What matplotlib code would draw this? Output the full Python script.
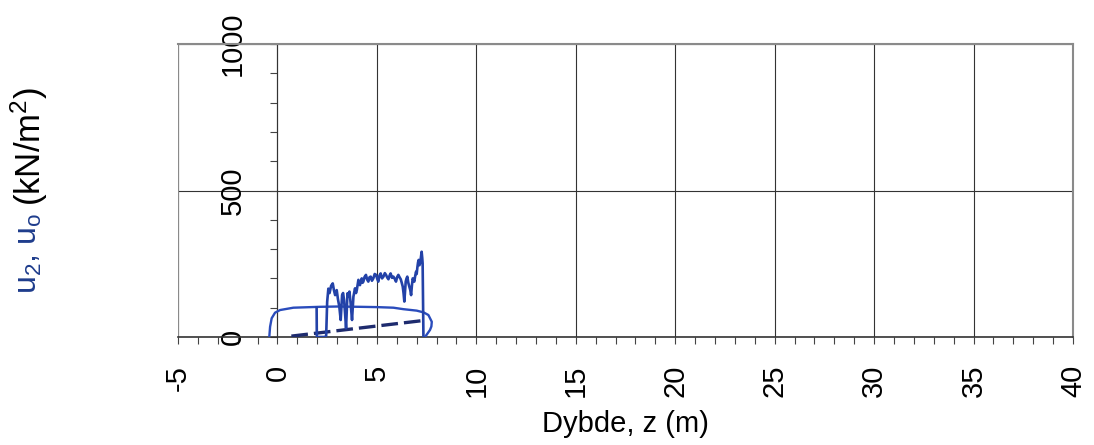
import numpy as np
import matplotlib
matplotlib.use("Agg")
import matplotlib.pyplot as plt
from matplotlib.ticker import MultipleLocator

plt.rcParams['font.family'] = ['Liberation Sans', 'DejaVu Sans']
plt.rcParams['axes.unicode_minus'] = False
plt.rcParams['mathtext.default'] = 'regular'

# Smooth u0 profile (solid)
z_u0 = [-0.41, -0.37, -0.29, -0.12, 0.13, 0.8, 2.14, 3.0, 4.15, 5.0, 5.83, 6.33, 7.0, 7.35, 7.59, 7.76, 7.74, 7.67, 7.42]
u0 = [0, 35, 64, 83, 92, 100, 103, 104, 103, 102, 100, 95, 90, 84, 75, 52, 36, 24, 0]

# Hydrostatic line (dashed)
z_hyd = [0.7, 7.3]
u_hyd = [3, 56]

# Measured u2 trace
z_u2 = [1.97, 1.98, 2.40, 2.45, 2.50, 2.56, 2.62, 2.70, 2.78, 2.84, 2.90, 2.98, 3.04, 3.11, 3.18,
        3.25, 3.30, 3.35, 3.40, 3.45, 3.52, 3.57, 3.62, 3.68, 3.75, 3.82, 3.90, 3.95, 3.99, 4.07,
        4.11, 4.15, 4.20, 4.24, 4.28, 4.32, 4.38, 4.45, 4.51, 4.57, 4.63, 4.69, 4.75, 4.82, 4.89,
        4.96, 5.02, 5.07, 5.13, 5.19, 5.26, 5.33, 5.40, 5.46, 5.52, 5.58, 5.64, 5.69, 5.76, 5.83,
        5.90, 5.96, 6.02, 6.08, 6.14, 6.20, 6.25, 6.30, 6.34, 6.38, 6.45, 6.49, 6.53, 6.58, 6.63,
        6.68, 6.72, 6.76, 6.80, 6.84, 6.88, 6.93, 6.97, 7.00, 7.04, 7.07, 7.10, 7.14, 7.17, 7.21,
        7.25, 7.28, 7.30, 7.34]
u2 = [100, 0, 0, 5, 120, 165, 150, 175, 183, 160, 143, 160, 130, 104, 58,
      143, 150, 126, 80, 30, 149, 140, 155, 115, 58, 138, 166, 150, 160, 195,
      180, 177, 192, 200, 185, 189, 205, 212, 196, 189, 204, 206, 192, 200, 215,
      212, 198, 189, 210, 217, 200, 206, 218, 212, 203, 197, 210, 217, 202, 206,
      198, 189, 205, 212, 204, 197, 185, 172, 150, 121, 189, 200, 206, 185, 172,
      160, 143, 175, 200, 195, 189, 210, 223, 215, 240, 255, 263, 245, 251, 270,
      291, 270, 251, 0]

xticks = np.arange(-5, 41, 5)
yticks = [0, 500, 1000]

fig = plt.figure(figsize=(10.94, 4.45), dpi=100)
ax = fig.add_axes([178 / 1094, 1 - 337 / 445, (1073 - 178) / 1094, (337 - 44) / 445])

ax.plot(z_u0, u0, color='#2a4cbc', lw=1.7, zorder=3)
ax.plot(z_hyd, u_hyd, color='#1e2b6e', lw=2.4, dashes=(5, 1.8), zorder=3)
ax.plot(z_u2, u2, color='#2342a8', lw=1.9, zorder=4)

ax.set_xlim(-5, 40)
ax.set_ylim(0, 1000)

ax.set_xticks(xticks)
ax.set_yticks(yticks)
ax.xaxis.set_minor_locator(MultipleLocator(1))
ax.yaxis.set_minor_locator(MultipleLocator(100))

ax.grid(True, which='major', color='#333333', lw=0.8)

# y axis sits on z = 0, the box edge at z = -5 is drawn separately
ax.spines['left'].set_position(('data', 0))
ax.spines['left'].set_color('#333333')
ax.spines['left'].set_linewidth(0.8)
ax.axvline(-5, color='#8a8a8a', lw=1.5, zorder=2)
for side in ['top', 'right']:
    ax.spines[side].set_color('#8a8a8a')
    ax.spines[side].set_linewidth(1.5)
ax.spines['bottom'].set_color('#333333')
ax.spines['bottom'].set_linewidth(1.2)

ax.tick_params(axis='x', which='both', direction='out', length=5, width=0.8,
               color='#444444', labelsize=21, pad=15)
ax.tick_params(axis='y', which='both', direction='out', length=5, width=0.8,
               color='#444444', labelsize=21, pad=17)
plt.setp(ax.get_xticklabels(), rotation=90)
plt.setp(ax.get_yticklabels(), rotation=90, va='center')

ax.set_xlabel('Dybde, z (m)', fontsize=21, labelpad=9)

# Two-colour y label
fig.text(29 / 1094, 1 - 294 / 445, r'u$_2$, u$_o$', color='#1e3c8c',
         fontsize=23, rotation=90, ha='center', va='bottom')
fig.text(29 / 1094, 1 - 206 / 445, r'(kN/m$^2$)', color='black',
         fontsize=25, rotation=90, ha='center', va='bottom')

fig.savefig('out.png', dpi=100)
